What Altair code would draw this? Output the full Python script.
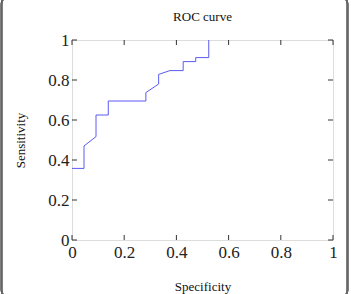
import altair as alt
import pandas as pd

# ROC curve step points
spec_x = [0.0, 0.046, 0.046, 0.092, 0.092, 0.139, 0.139, 0.283, 0.283, 0.332, 0.332,
          0.375, 0.426, 0.426, 0.474, 0.474, 0.524, 0.524]
sens_y = [0.358, 0.358, 0.47, 0.517, 0.625, 0.625, 0.695, 0.695, 0.737, 0.78, 0.828,
          0.847, 0.847, 0.892, 0.892, 0.912, 0.912, 1.0]
tick_vals = [0.0, 0.2, 0.4, 0.6, 0.8, 1.0]

df = pd.DataFrame({"x": spec_x, "y": sens_y, "order": list(range(len(spec_x)))})
ticks = pd.DataFrame({"t": tick_vals})

FONT = "Liberation Serif"
W, H = 261, 200
xs = alt.Scale(domain=[0, 1], nice=False, zero=False)
ys = alt.Scale(domain=[0, 1], nice=False, zero=False)

common_axis = dict(values=tick_vals, format="~g", ticks=False, domain=False, grid=False,
                   labelFont=FONT, labelFontSize=17, labelColor="#222",
                   labelOverlap=False, labelFlush=False,
                   titleFont=FONT, titleFontSize=13, titleFontWeight="normal",
                   titleColor="#111")
x_axis = alt.Axis(labelPadding=4, titlePadding=20, **common_axis)
y_axis = alt.Axis(labelPadding=3, titlePadding=20, **common_axis)
X_TITLE, Y_TITLE = "Specificity", "Sensitivity"

line = alt.Chart(df).mark_line(color="#5a5af2", strokeWidth=1, clip=False).encode(
    x=alt.X("x:Q", scale=xs, title=X_TITLE, axis=x_axis),
    y=alt.Y("y:Q", scale=ys, title=Y_TITLE, axis=y_axis),
    order="order:O",
)

TL = 5
tick_color = "#333"
bottom_ticks = alt.Chart(ticks).mark_rule(color=tick_color, strokeWidth=1).encode(
    x=alt.X("t:Q", scale=xs, title=X_TITLE, axis=x_axis), y=alt.value(H), y2=alt.value(H - TL))
top_ticks = alt.Chart(ticks).mark_rule(color=tick_color, strokeWidth=1).encode(
    x=alt.X("t:Q", scale=xs, title=X_TITLE, axis=x_axis), y=alt.value(0), y2=alt.value(TL))
left_ticks = alt.Chart(ticks).mark_rule(color=tick_color, strokeWidth=1).encode(
    y=alt.Y("t:Q", scale=ys, title=Y_TITLE, axis=y_axis), x=alt.value(0), x2=alt.value(TL))
right_ticks = alt.Chart(ticks).mark_rule(color=tick_color, strokeWidth=1).encode(
    y=alt.Y("t:Q", scale=ys, title=Y_TITLE, axis=y_axis), x=alt.value(W), x2=alt.value(W - TL))

frame = alt.Chart(ticks).mark_rect(fill=None, stroke="#666", strokeWidth=1.5,
                                   cornerRadius=8, clip=False).encode(
    x=alt.value(-70.5), x2=alt.value(275.5), y=alt.value(-44), y2=alt.value(258))

chart = alt.layer(line, bottom_ticks, top_ticks, left_ticks, right_ticks, frame).properties(
    width=W, height=H,
    title=alt.TitleParams("ROC curve", font=FONT, fontSize=13, fontWeight="normal",
                          color="#111", offset=-29, anchor="middle", frame="group"),
    padding={"left": 72, "top": 40, "right": 18, "bottom": 54},
    autosize=alt.AutoSizeParams(type="none"),
).configure_view(stroke="#555", strokeWidth=1).configure(background="white")

chart.save("out.html", embed_options={"renderer": "svg", "actions": False})
